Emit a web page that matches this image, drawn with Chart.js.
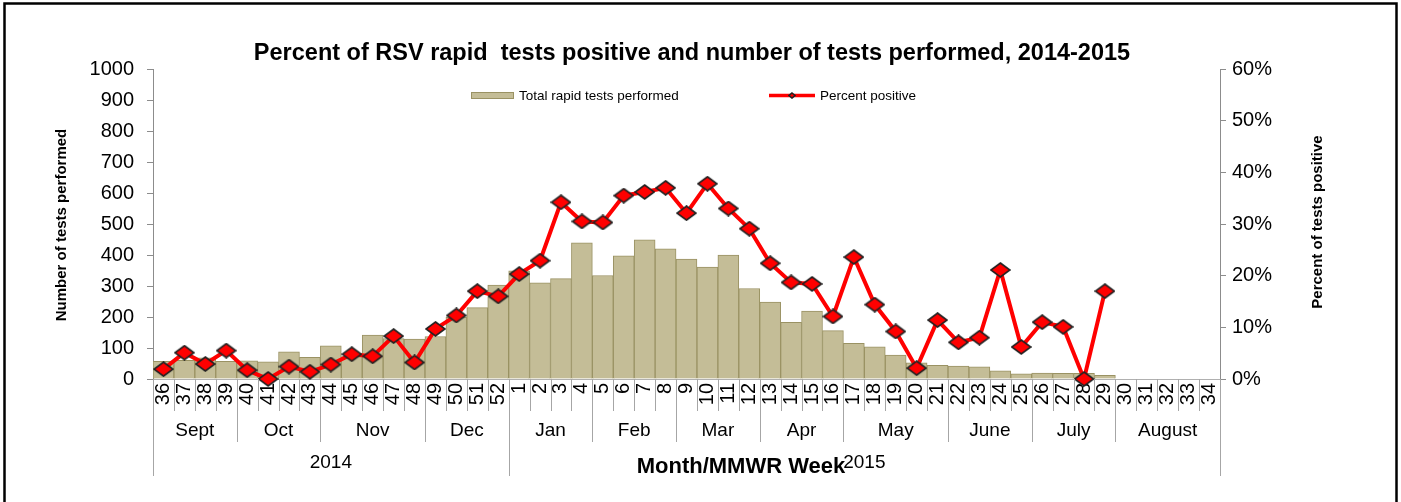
<!DOCTYPE html>
<html><head><meta charset="utf-8">
<script src="https://cdn.jsdelivr.net/npm/chart.js@4.4.1/dist/chart.umd.min.js"></script>
<style>html,body{margin:0;padding:0;background:#fff;overflow:hidden}</style>
</head><body>
<canvas id="c" width="1401" height="502"></canvas>
<script>
// ---- data ----
const weeks = ['36','37','38','39','40','41','42','43','44','45','46','47','48','49','50','51','52',
  '1','2','3','4','5','6','7','8','9','10','11','12','13','14','15','16','17','18','19','20',
  '21','22','23','24','25','26','27','28','29','30','31','32','33','34'];
const testsPerformed = [57,60,68,57,59,55,88,70,107,72,142,130,129,137,200,230,303,
  349,310,324,439,334,397,449,420,387,361,400,292,248,183,219,156,115,104,77,52,
  44,42,39,26,17,19,18,18,12,null,null,null,null,null];
const percentPositive = [1.9,5.1,2.9,5.5,1.7,0,2.4,1.4,2.8,4.8,4.4,8.3,3.2,9.7,12.3,17.0,16.0,
  20.3,22.9,34.2,30.5,30.3,35.5,36.2,37.0,32.1,37.8,33.0,29.1,22.4,18.7,18.4,12.1,23.6,14.4,9.2,2.1,
  11.4,7.1,8.0,21.1,6.2,11.0,10.1,0,17.0,null,null,null,null,null];
const months = ['Sept','Oct','Nov','Dec','Jan','Feb','Mar','Apr','May','June','July','August'];
const monthWeekCounts = [4,4,5,4,4,4,4,4,5,4,4,5];
const years = ['2014','2015'];
const yearWeekCounts = [17,34];
const chartTitle = 'Percent of RSV rapid  tests positive and number of tests performed, 2014-2015';
const leftAxisTitle = 'Number of tests performed';
const rightAxisTitle = 'Percent of tests positive';
const xAxisTitle = 'Month/MMWR Week';

// ---- styles ----
const BAR_FILL = '#C4BD97', BAR_EDGE = '#9A9263', LINE_RED = '#FF0000', AXIS_GREY = '#8C8C8C';
const FONT = '"Liberation Sans", Arial, sans-serif';

function makeDiamond(w, h) {
  const c = document.createElement('canvas');
  c.width = w; c.height = h;
  const g = c.getContext('2d');
  g.beginPath();
  g.moveTo(w / 2, 1); g.lineTo(w - 1, h / 2); g.lineTo(w / 2, h - 1); g.lineTo(1, h / 2);
  g.closePath();
  g.fillStyle = LINE_RED; g.fill();
  g.lineWidth = 1.6; g.strokeStyle = '#222'; g.stroke();
  return c;
}
const diamond = makeDiamond(21, 16);
const smallDiamond = makeDiamond(8, 7);

const decor = {
  id: 'decor',
  beforeDraw(chart) {
    const ctx = chart.ctx;
    ctx.save(); ctx.fillStyle = '#fff'; ctx.fillRect(0, 0, chart.width, chart.height); ctx.restore();
  },
  afterDraw(chart) {
    const ctx = chart.ctx;
    const area = chart.chartArea;
    const xs = chart.scales.x;
    const n = weeks.length;
    const w = (xs.right - xs.left) / n;
    const b = area.bottom;
    ctx.save();
    // title
    ctx.fillStyle = '#000';
    ctx.textAlign = 'center'; ctx.textBaseline = 'middle';
    ctx.font = 'bold 23.5px ' + FONT;
    ctx.fillText(chartTitle, 692, 54);

    // legend
    const ds0 = chart.data.datasets[0], ds1 = chart.data.datasets[1];
    ctx.fillStyle = BAR_FILL; ctx.strokeStyle = BAR_EDGE; ctx.lineWidth = 1;
    ctx.fillRect(471, 92.5, 42, 6); ctx.strokeRect(471.5, 92.5, 42, 6);
    ctx.fillStyle = '#000'; ctx.textAlign = 'left'; ctx.font = '13.5px ' + FONT;
    ctx.fillText(ds0.label, 519, 96);
    ctx.strokeStyle = LINE_RED; ctx.lineWidth = 3.5;
    ctx.beginPath(); ctx.moveTo(769, 95.5); ctx.lineTo(815, 95.5); ctx.stroke();
    ctx.drawImage(smallDiamond, 792 - 4, 95.5 - 3.5);
    ctx.fillText(ds1.label, 820, 96);

    // x separators
    ctx.strokeStyle = '#A6A6A6'; ctx.lineWidth = 1;
    const monthB = new Set([0]); let acc = 0;
    monthWeekCounts.forEach(c => { acc += c; monthB.add(acc); });
    const yearB = new Set([0]); acc = 0;
    yearWeekCounts.forEach(c => { acc += c; yearB.add(acc); });
    for (let k = 0; k <= n; k++) {
      const x = Math.round(xs.left + k * w) + 0.5;
      let y2 = b + 32;
      if (monthB.has(k)) y2 = b + 63;
      if (yearB.has(k)) y2 = b + 97;
      ctx.beginPath(); ctx.moveTo(x, b); ctx.lineTo(x, y2); ctx.stroke();
    }
    // month labels
    ctx.fillStyle = '#000'; ctx.textAlign = 'center'; ctx.textBaseline = 'middle';
    ctx.font = '19px ' + FONT;
    acc = 0;
    months.forEach((m, i) => {
      const x = xs.left + (acc + monthWeekCounts[i] / 2) * w;
      ctx.fillText(m, x, b + 52);
      acc += monthWeekCounts[i];
    });
    acc = 0;
    years.forEach((yv, i) => {
      const x = xs.left + (acc + yearWeekCounts[i] / 2) * w;
      ctx.fillText(yv, x, b + 84);
      acc += yearWeekCounts[i];
    });
    ctx.font = 'bold 22px ' + FONT;
    ctx.fillText(xAxisTitle, 741, b + 88);

    // y axis titles
    ctx.font = 'bold 15px ' + FONT;
    ctx.save(); ctx.translate(62, (area.top + area.bottom) / 2 + 1); ctx.rotate(-Math.PI / 2);
    ctx.fillText(leftAxisTitle, 0, 0); ctx.restore();
    ctx.save(); ctx.translate(1318, 222); ctx.rotate(-Math.PI / 2);
    ctx.fillText(rightAxisTitle, 0, 0); ctx.restore();

    // frame
    ctx.strokeStyle = '#000'; ctx.lineWidth = 2.5;
    ctx.strokeRect(4.5, 3.5, 1392, 540);
    ctx.restore();
  }
};

new Chart(document.getElementById('c'), {
  type: 'bar',
  data: {
    labels: weeks,
    datasets: [
      {
        type: 'bar', label: 'Total rapid tests performed', data: testsPerformed, yAxisID: 'y', order: 2,
        backgroundColor: BAR_FILL, borderColor: BAR_EDGE, borderWidth: 1,
        barPercentage: 1, categoryPercentage: 1
      },
      {
        type: 'line', label: 'Percent positive', data: percentPositive, yAxisID: 'y1', order: 1,
        borderColor: LINE_RED, borderWidth: 4, tension: 0, clip: false,
        pointStyle: diamond, pointRadius: 7, pointHoverRadius: 7, spanGaps: false
      }
    ]
  },
  options: {
    responsive: false, animation: false, devicePixelRatio: 1,
    layout: { padding: { top: 69, left: 0, right: 0, bottom: 0 } },
    plugins: { legend: { display: false }, title: { display: false }, tooltip: { enabled: false } },
    scales: {
      x: {
        offset: true,
        grid: { display: true, drawOnChartArea: false, drawTicks: false, color: AXIS_GREY },
        border: { display: true, color: '#B0B0B0', width: 1 },
        ticks: { autoSkip: false, maxRotation: 90, minRotation: 90, padding: 4,
                 color: '#000', font: { size: 20, family: FONT } },
        afterFit(s) { s.height = 123; }
      },
      y: {
        position: 'left', min: 0, max: 1000,
        grid: { drawOnChartArea: false, drawTicks: true, tickLength: 6, color: AXIS_GREY },
        border: { display: true, color: AXIS_GREY, width: 1 },
        ticks: { stepSize: 100, padding: 13, color: '#000', font: { size: 20, family: FONT },
                 callback: v => String(v) },
        afterFit(s) { s.width = 153; }
      },
      y1: {
        position: 'right', min: 0, max: 60,
        grid: { drawOnChartArea: false, drawTicks: true, tickLength: 6, color: AXIS_GREY },
        border: { display: true, color: AXIS_GREY, width: 1 },
        ticks: { stepSize: 10, padding: 6, color: '#000', font: { size: 20, family: FONT },
                 callback: v => v + '%' },
        afterFit(s) { s.width = 181; }
      }
    }
  },
  plugins: [decor]
});
</script>
</body></html>
